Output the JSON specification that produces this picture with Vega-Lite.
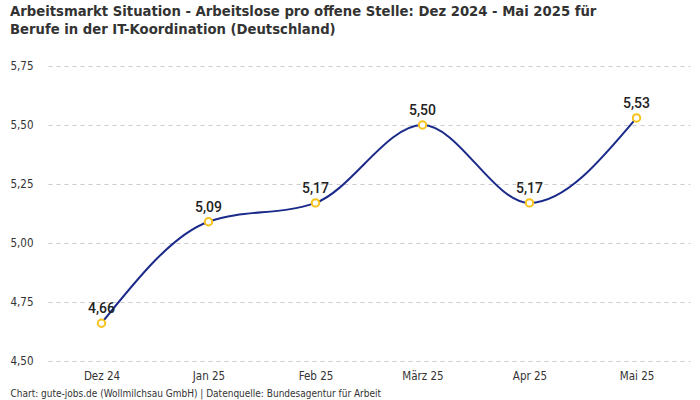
{
  "$schema": "https://vega.github.io/schema/vega-lite/v6.json",
  "width": 642,
  "height": 295,
  "autosize": {"type": "none"},
  "padding": {"left": 48, "top": 66, "right": 10, "bottom": 39},
  "background": "white",
  "title": {
    "text": ["Arbeitsmarkt Situation - Arbeitslose pro offene Stelle: Dez 2024 - Mai 2025 für", "Berufe in der IT-Koordination (Deutschland)"],
    "anchor": "start",
    "frame": "group",
    "dx": -38,
    "offset": 23,
    "font": "DejaVu Sans Condensed, sans-serif",
    "fontSize": 14.7,
    "fontWeight": "bold",
    "color": "#333333",
    "lineHeight": 18
  },
  "config": {
    "locale": {"number": {"decimal": ",", "thousands": ".", "grouping": [3], "currency": ["", " €"]}},
    "view": {"stroke": null},
    "axis": {
      "labelFont": "DejaVu Sans Condensed, sans-serif",
      "titleFont": "DejaVu Sans Condensed, sans-serif"
    }
  },
  "data": {
    "values": [
      {"monat": "Dez 24", "wert": 4.66},
      {"monat": "Jan 25", "wert": 5.09},
      {"monat": "Feb 25", "wert": 5.17},
      {"monat": "März 25", "wert": 5.50},
      {"monat": "Apr 25", "wert": 5.17},
      {"monat": "Mai 25", "wert": 5.53}
    ]
  },
  "encoding": {
    "x": {
      "field": "monat",
      "type": "ordinal",
      "sort": null,
      "scale": {"type": "point", "padding": 0.5},
      "axis": {
        "labelAngle": 0,
        "ticks": false,
        "domain": false,
        "grid": false,
        "labelPadding": 9,
        "labelFontSize": 11.5,
        "labelColor": "#333333",
        "title": "Chart: gute-jobs.de (Wollmilchsau GmbH) | Datenquelle: Bundesagentur für Arbeit",
        "titleAnchor": "start",
        "titleAlign": "left",
        "titleBaseline": "middle",
        "titleX": -38,
        "titleY": 32,
        "titleFontSize": 10,
        "titleFontWeight": "normal",
        "titleColor": "#333333"
      }
    },
    "y": {
      "field": "wert",
      "type": "quantitative",
      "scale": {"domain": [4.5, 5.75], "nice": false, "zero": false},
      "axis": {
        "values": [4.5, 4.75, 5.0, 5.25, 5.5, 5.75],
        "format": ".2f",
        "ticks": false,
        "domain": false,
        "labelPadding": 15,
        "labelFontSize": 11.5,
        "labelColor": "#333333",
        "gridColor": "#cccccc",
        "gridDash": [4, 4],
        "gridWidth": 1,
        "title": null
      }
    }
  },
  "layer": [
    {
      "mark": {"type": "line", "interpolate": "monotone", "color": "#1a2a8a", "strokeWidth": 2}
    },
    {
      "mark": {"type": "point", "filled": true, "fill": "white", "stroke": "#f7c21a", "strokeWidth": 2, "size": 55, "opacity": 1}
    },
    {
      "mark": {"type": "text", "dy": -14, "font": "Roboto", "fontSize": 14, "fontWeight": 500, "color": "#222222"},
      "encoding": {"text": {"field": "wert", "type": "quantitative", "format": ".2f"}}
    }
  ]
}
